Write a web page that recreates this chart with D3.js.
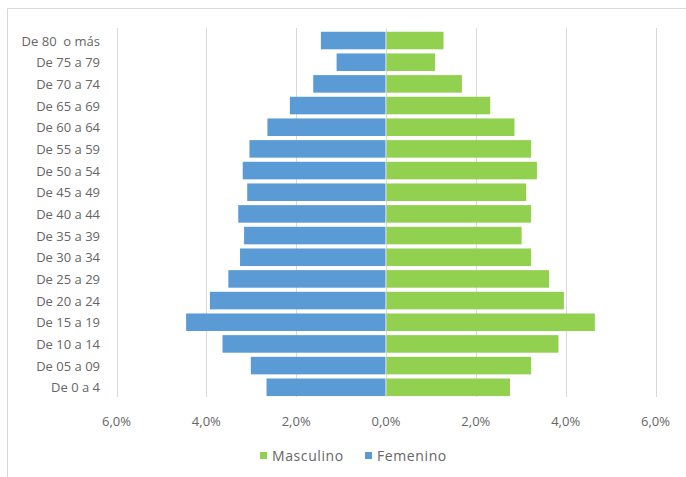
<!DOCTYPE html>
<html>
<head>
<meta charset="utf-8">
<script src="https://cdn.jsdelivr.net/npm/d3@7"></script>
<style>
  html, body { margin: 0; padding: 0; background: #fff; }
  svg { display: block; font-family: "Open Sans", "Liberation Sans", sans-serif; }
</style>
</head>
<body>
<svg id="chart" width="686" height="477"></svg>
<script>
// Categories, top to bottom
const categories = ["De 80  o más", "De 75 a 79", "De 70 a 74", "De 65 a 69", "De 60 a 64",
  "De 55 a 59", "De 50 a 54", "De 45 a 49", "De 40 a 44", "De 35 a 39", "De 30 a 34",
  "De 25 a 29", "De 20 a 24", "De 15 a 19", "De 10 a 14", "De 05 a 09", "De 0 a 4"];
// Percentages (%)
const masculino = [1.28, 1.09, 1.69, 2.32, 2.86, 3.23, 3.36, 3.12, 3.23, 3.02, 3.23, 3.63, 3.96, 4.65, 3.84, 3.23, 2.76];
const femenino  = [1.45, 1.10, 1.62, 2.14, 2.64, 3.04, 3.19, 3.09, 3.29, 3.16, 3.25, 3.51, 3.92, 4.45, 3.64, 3.01, 2.66];
const tickValues = [-6, -4, -2, 0, 2, 4, 6];
const seriesNames = ["Masculino", "Femenino"];
const seriesColors = ["#92D050", "#5B9BD5"];

const svg = d3.select("#chart");

// frame
svg.append("line").attr("x1", 7.5).attr("x2", 686).attr("y1", 8.5).attr("y2", 8.5)
  .attr("stroke", "#d9d9d9").attr("stroke-width", 1);
svg.append("line").attr("x1", 7.5).attr("x2", 7.5).attr("y1", 8.5).attr("y2", 477)
  .attr("stroke", "#d9d9d9").attr("stroke-width", 1);

const x = d3.scaleLinear().domain([-6, 6]).range([116.5, 655.5]);
const y = d3.scaleBand().domain(categories).range([29.7, 398.1]).paddingInner(0.19).paddingOuter(0.095);

// gridlines
svg.append("g").selectAll("line").data(tickValues).join("line")
  .attr("x1", d => Math.round(x(d)) + 0.5).attr("x2", d => Math.round(x(d)) + 0.5)
  .attr("y1", 28).attr("y2", 397)
  .attr("stroke", "#d9d9d9").attr("stroke-width", 1);

// bars
svg.append("g").selectAll("rect").data(categories).join("rect")
  .attr("x", (d, i) => x(-femenino[i]))
  .attr("y", d => y(d))
  .attr("width", (d, i) => x(0) - x(-femenino[i]) - 0.5)
  .attr("height", y.bandwidth())
  .attr("fill", seriesColors[1]);

svg.append("g").selectAll("rect").data(categories).join("rect")
  .attr("x", x(0) + 0.5)
  .attr("y", d => y(d))
  .attr("width", (d, i) => x(masculino[i]) - x(0) - 0.5)
  .attr("height", y.bandwidth())
  .attr("fill", seriesColors[0]);

// category labels
svg.append("g").selectAll("text").data(categories).join("text")
  .attr("x", 100).attr("y", d => y(d) + y.bandwidth() / 2)
  .attr("text-anchor", "end").attr("dominant-baseline", "central")
  .attr("font-size", 13).attr("fill", "#666666")
  .style("white-space", "pre")
  .text(d => d);

// x axis labels
const fmt = v => Math.abs(v).toFixed(1).replace(".", ",") + "%";
svg.append("g").selectAll("text").data(tickValues).join("text")
  .attr("x", d => x(d)).attr("y", 421)
  .attr("text-anchor", "middle").attr("dominant-baseline", "central")
  .attr("font-size", 13).attr("fill", "#666666")
  .text(d => fmt(d));

// legend
const legend = svg.append("g");
const legendX = [260, 365];
seriesNames.forEach((name, i) => {
  legend.append("rect").attr("x", legendX[i]).attr("y", 452).attr("width", 7).attr("height", 7)
    .attr("fill", seriesColors[i]);
  legend.append("text").attr("x", legendX[i] + 12).attr("y", 455.5)
    .attr("dominant-baseline", "central").attr("font-size", 14).attr("letter-spacing", 0.6)
    .attr("fill", "#666666")
    .text(name);
});
</script>
</body>
</html>
